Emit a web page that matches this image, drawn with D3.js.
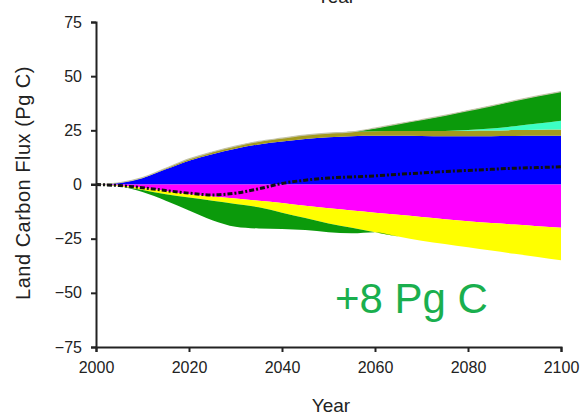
<!DOCTYPE html>
<html>
<head>
<meta charset="utf-8">
<script src="https://cdn.jsdelivr.net/npm/d3@7"></script>
<style>
  body { margin: 0; background: #fff; }
  text { font-family: "Liberation Sans", Arial, sans-serif; }
</style>
</head>
<body>
<div id="chart"></div>
<script>
var w = 580;
var h = 417;

// years sampled every 5
var years = d3.range(2000, 2101, 5);

// thickness of each contribution (Pg C), positive side
var blueGain   = [0, 0.8, 3, 7, 11, 14, 16.5, 18.5, 19.8, 21, 21.8, 22.3, 22.5, 22.5, 22.4, 22.3, 22.3, 22.3, 22.4, 22.5, 22.5];
var oliveGain  = [0, 0, 0.2, 0.5, 0.8, 1, 1.2, 1.4, 1.6, 1.8, 1.9, 2, 2.1, 2.2, 2.3, 2.4, 2.5, 2.6, 2.7, 2.8, 2.9];
var aquaGain   = [0, 0, 0, 0, 0, 0, 0, 0, 0, 0, 0, 0, 0, 0, 0, 0, 0.3, 0.9, 1.8, 2.8, 4];
var greenGain  = [0, 0, 0, 0, 0, 0, 0, 0, 0, 0, 0, 0, 1.4, 3.3, 5.2, 7.2, 9, 10.5, 11.8, 12.8, 13.5];
// negative side
var magentaLoss = [0, -0.5, -1.5, -3, -4.5, -5.5, -6.5, -7.5, -8.5, -9.8, -11, -12, -13, -14, -15, -16, -17, -17.8, -18.5, -19.3, -20];
var yellowLoss  = [0, -0.3, -1, -1.5, -1.5, -2, -2.5, -3, -4.5, -5.7, -7, -8, -9, -10, -11, -11.5, -12, -12.7, -13.5, -14.2, -15];
var greenLoss   = [0, 0, -1, -3, -6, -9, -10.5, -9.8, -7.5, -5.5, -4, -2.5, 0, 0, 0, 0, 0, 0, 0, 0, 0];
// net flux (dashed)
var netFlux = [0, -0.5, -1.5, -2.8, -4, -4.8, -4, -2, 0.5, 2, 3, 3.5, 4, 4.7, 5.3, 6, 6.5, 7, 7.5, 7.8, 8.2];

var yTicks = [-75, -50, -25, 0, 25, 50, 75];
var xTicks = [2000, 2020, 2040, 2060, 2080, 2100];

var posLayers = [
  { key: "blue", values: blueGain, color: "#0000ff" },
  { key: "olive", values: oliveGain, color: "#a39a1e" },
  { key: "aqua", values: aquaGain, color: "#3cffc4" },
  { key: "greenPos", values: greenGain, color: "#0b9a0b" }
];
var negLayers = [
  { key: "magenta", values: magentaLoss, color: "#ff00ff" },
  { key: "yellow", values: yellowLoss, color: "#ffff00" },
  { key: "greenNeg", values: greenLoss, color: "#0b9a0b" }
];

function toRows(layers) {
  return years.map(function(y, i) {
    var r = { year: y };
    layers.forEach(function(l) { r[l.key] = l.values[i]; });
    return r;
  });
}

var svg = d3.select("#chart")
  .append("svg")
  .attr("width", w)
  .attr("height", h);

var x = d3.scaleLinear().domain([2000, 2100]).range([96, 561]);
var y = d3.scaleLinear().domain([-75, 75]).range([347, 22]);

var area = d3.area()
  .x(function(d) { return x(d.data.year); })
  .y0(function(d) { return y(d[0]); })
  .y1(function(d) { return y(d[1]); })
  .curve(d3.curveMonotoneX);

function drawStack(layers) {
  var series = d3.stack()
    .keys(layers.map(function(l) { return l.key; }))
    (toRows(layers));

  svg.append("g").selectAll("path")
    .data(series)
    .enter()
    .append("path")
    .attr("d", area)
    .attr("fill", function(d, i) { return layers[i].color; });

  return series;
}

var posSeries = drawStack(posLayers);
drawStack(negLayers);

// faint grey edge on the top of the positive stack
var topLine = d3.line()
  .x(function(d) { return x(d.data.year); })
  .y(function(d) { return y(d[1]); })
  .curve(d3.curveMonotoneX);

svg.append("path")
  .datum(posSeries[posSeries.length - 1])
  .attr("d", topLine)
  .attr("fill", "none")
  .attr("stroke", "#c4c4a8")
  .attr("stroke-width", 1.2);

// net flux
var netLine = d3.line()
  .x(function(d, i) { return x(years[i]); })
  .y(function(d) { return y(d); })
  .curve(d3.curveMonotoneX);

svg.append("path")
  .datum(netFlux)
  .attr("d", netLine)
  .attr("fill", "none")
  .attr("stroke", "#111")
  .attr("stroke-width", 3)
  .attr("stroke-dasharray", "5,2,2,2");

// axes
var yAxis = d3.axisLeft(y).tickValues(yTicks).tickSize(5).tickPadding(9);
var gy = svg.append("g")
  .attr("transform", "translate(" + x(2000) + ",0)")
  .call(yAxis);

var xAxis = d3.axisBottom(x).tickValues(xTicks).tickSize(5).tickPadding(10).tickFormat(d3.format("d"));
var gx = svg.append("g")
  .attr("transform", "translate(0," + y(-75) + ")")
  .call(xAxis);

[gx, gy].forEach(function(g) {
  g.select(".domain").attr("stroke", "#222").attr("stroke-width", 2);
  g.selectAll(".tick line").attr("stroke", "#222").attr("stroke-width", 2);
  g.selectAll(".tick text")
    .attr("fill", "#222")
    .style("font-size", "16px")
    .style("font-family", "'Liberation Sans', Arial, sans-serif");
});

// small crossing mark at zero
svg.append("line")
  .attr("x1", x(2000) - 5).attr("x2", x(2000) + 5)
  .attr("y1", y(0)).attr("y2", y(0))
  .attr("stroke", "#222").attr("stroke-width", 2);

// titles
svg.append("text")
  .attr("x", 331)
  .attr("y", 412)
  .attr("text-anchor", "middle")
  .attr("fill", "#222")
  .style("font-size", "19px")
  .text("Year");

svg.append("text")
  .attr("x", 336)
  .attr("y", 3)
  .attr("text-anchor", "middle")
  .attr("fill", "#222")
  .style("font-size", "19px")
  .text("Year");

svg.append("text")
  .attr("transform", "translate(30,183) rotate(-90)")
  .attr("text-anchor", "middle")
  .attr("fill", "#222")
  .style("font-size", "20px")
  .style("letter-spacing", "0.5px")
  .text("Land Carbon Flux (Pg C)");

svg.append("text")
  .attr("x", 335)
  .attr("y", 313)
  .attr("fill", "#1aaf4e")
  .style("font-size", "42px")
  .text("+8 Pg C");
</script>
</body>
</html>
